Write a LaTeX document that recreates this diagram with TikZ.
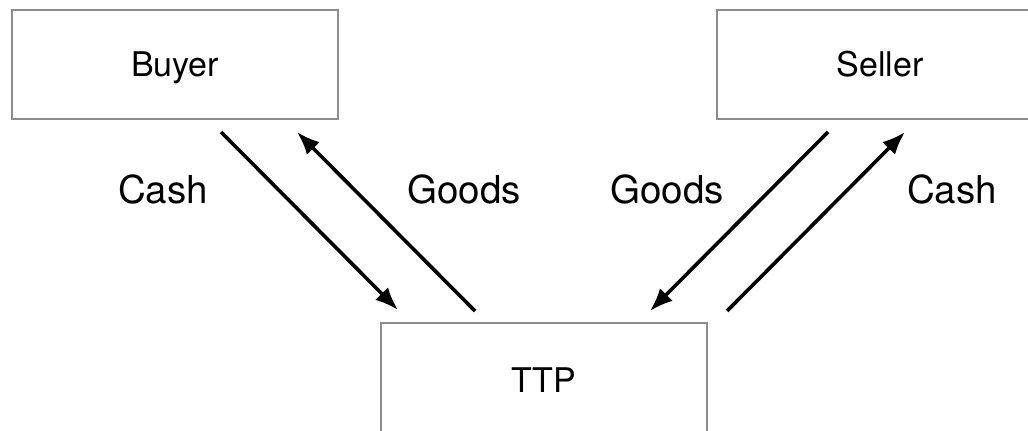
\documentclass[tikz,border=0pt]{standalone}
\usepackage{fontspec}
\setmainfont{TeX Gyre Heros}
\usetikzlibrary{arrows.meta}
\definecolor{boxgray}{HTML}{8C8C8C}
\tikzset{
  party/.style={draw=boxgray, line width=2pt, minimum width=326pt, minimum height=109pt,
    inner sep=0pt, outer sep=0pt, font=\fontsize{34}{38}\selectfont,
    text height=24.4pt, text depth=0pt},
  flow/.style={line width=3.6pt, -{Latex[length=23pt,width=18pt]}},
  flowlabel/.style={anchor=base, inner sep=0pt, font=\fontsize{38.5}{44}\selectfont}
}
\begin{document}
\begin{tikzpicture}[x=1pt, y=-1pt]
  \useasboundingbox (0,0) rectangle (1028,431);
  \clip (0,0) rectangle (1028,431);
  % the three parties
  \node[party] (buyer)  at (175,64.5)  {Buyer};
  \node[party] (seller) at (880,64.5)  {Seller};
  \node[party, minimum height=115pt] (ttp) at (544,380.5) {TTP};
  % arrow end points
  \coordinate (bcs) at (221,132);
  \coordinate (bce) at (398,310);
  \coordinate (bgs) at (475,311);
  \coordinate (bge) at (297,132);
  \coordinate (sgs) at (828,132);
  \coordinate (sge) at (650,311);
  \coordinate (scs) at (727,311);
  \coordinate (sce) at (905,132);
  % exchanges
  \draw[flow] (bcs) -- (bce);
  \draw[flow] (bgs) -- (bge);
  \draw[flow] (sgs) -- (sge);
  \draw[flow] (scs) -- (sce);
  % labels
  \node[flowlabel] (l1) at (163,203) {Cash};
  \node[flowlabel] (l2) at (464,203) {Goods};
  \node[flowlabel] (l3) at (667,203) {Goods};
  \node[flowlabel] (l4) at (952,203) {Cash};
\end{tikzpicture}
\end{document}
